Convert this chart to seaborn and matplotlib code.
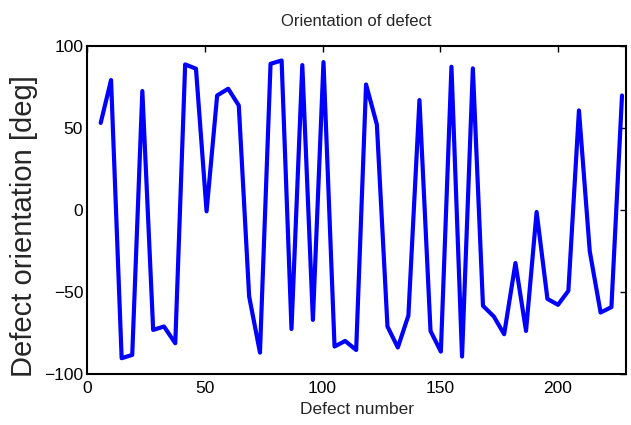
import matplotlib
matplotlib.use("Agg")
import matplotlib.pyplot as plt
import seaborn as sns
import pandas as pd

defect_number = [5.7, 10.1, 14.6, 19.1, 23.4, 28.0, 32.6, 37.4, 41.6, 46.2,
                 50.7, 55.2, 59.9, 64.4, 68.8, 73.4, 77.9, 82.6, 86.8, 91.4,
                 95.9, 100.4, 105.1, 109.6, 114.3, 118.5, 123.1, 127.6, 132.0, 136.5,
                 141.2, 145.9, 150.3, 154.8, 159.3, 163.9, 168.2, 172.8, 177.2, 182.0,
                 186.5, 191.0, 195.6, 200.1, 204.5, 209.0, 213.6, 218.2, 222.8, 227.3]
orientation = [53.0, 79.1, -90.2, -88.2, 72.4, -73.0, -70.9, -81.1, 88.6, 86.0,
               -0.8, 69.7, 73.8, 63.6, -52.6, -86.8, 89.0, 91.0, -72.4, 88.2,
               -66.9, 90.0, -83.1, -79.7, -85.2, 76.4, 52.0, -70.9, -83.7, -64.2,
               66.9, -73.6, -86.2, 87.2, -89.2, 86.2, -58.3, -64.8, -75.6, -32.3,
               -73.6, -1.2, -54.1, -57.7, -49.2, 60.6, -25.2, -62.4, -59.1, 69.7]
x_ticks = [0, 50, 100, 150, 200]
y_ticks = [-100, -50, 0, 50, 100]

df = pd.DataFrame({"Defect number": defect_number, "orientation": orientation})

sns.set_style("white")
plt.rcParams["font.family"] = ["Liberation Sans", "DejaVu Sans"]

fig = plt.figure(figsize=(6.31, 4.25), dpi=100)
ax = fig.add_axes([87.3 / 631, 1 - 374.3 / 425, (626 - 87.3) / 631, (374.3 - 45.7) / 425])

sns.lineplot(data=df, x="Defect number", y="orientation", ax=ax,
             color=(0, 0, 1), linewidth=3.0, sort=False)

ax.set_xlim(0, 229)
ax.set_ylim(-100, 100)
ax.set_xticks(x_ticks)
ax.set_yticks(y_ticks)
ax.tick_params(direction="in", length=4, width=1, top=True, right=True,
               labelsize=12.5, colors="black")
ax.tick_params(axis="x", pad=5)
ax.tick_params(axis="y", pad=3)
for s in ax.spines.values():
    s.set_visible(True)
    s.set_color("black")
    s.set_linewidth(1.5)

ax.set_title("Orientation of defect", fontsize=12, pad=14)
ax.set_xlabel("Defect number", fontsize=12.5)
ax.xaxis.set_label_coords(0.5, -0.085)
ax.set_ylabel("Defect orientation [deg]", fontsize=21)
ax.yaxis.set_label_coords(-0.0915, 0.451)

fig.savefig("out.png", dpi=100, facecolor="white")
